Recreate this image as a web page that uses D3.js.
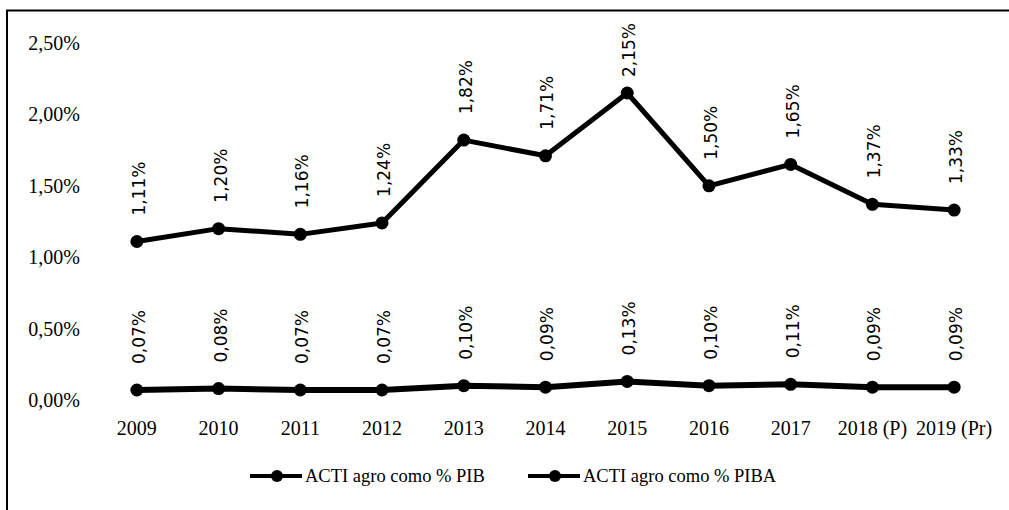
<!DOCTYPE html>
<html>
<head>
<meta charset="utf-8">
<script src="https://cdn.jsdelivr.net/npm/d3@7"></script>
<style>
  body { margin: 0; background: #fff; }
  svg { display: block; }
  .tick-label { font-family: "Liberation Serif", serif; font-size: 20px; fill: #000; }
  .data-label { font-family: "DejaVu Sans", sans-serif; font-size: 17px; fill: #000; }
  .legend-label { font-family: "Liberation Serif", serif; font-size: 18.5px; fill: #000; }
</style>
</head>
<body>
<div id="chart"></div>
<script>
// ----------------------------------------------------------------
// Data
// ----------------------------------------------------------------

const years = ["2009", "2010", "2011", "2012", "2013", "2014", "2015", "2016", "2017", "2018 (P)", "2019 (Pr)"];
const actiPib = [1.11, 1.20, 1.16, 1.24, 1.82, 1.71, 2.15, 1.50, 1.65, 1.37, 1.33];
const actiPiba = [0.07, 0.08, 0.07, 0.07, 0.10, 0.09, 0.13, 0.10, 0.11, 0.09, 0.09];
const yTicks = [0, 0.5, 1.0, 1.5, 2.0, 2.5];
const seriesNames = ["ACTI agro como % PIB", "ACTI agro como % PIBA"];

// ----------------------------------------------------------------
// Setup
// ----------------------------------------------------------------

const width = 1009;
const height = 510;
const labelGap = 26;   // distance from point to start of rotated label
const labelTop = 23;   // labels are pushed down so they stay inside the plot

const locale = d3.formatLocale({ decimal: ",", thousands: ".", grouping: [3], currency: ["", ""] });
const pct = v => locale.format(".2f")(v) + "%";

const svg = d3.select("#chart").append("svg")
  .attr("width", width)
  .attr("height", height);

// outer frame (only top and left edges are visible in the scan)
svg.append("path")
  .attr("d", "M7,512 L7,10.5 L1012,10.5")
  .attr("fill", "none")
  .attr("stroke", "#000")
  .attr("stroke-width", 2);

const x = d3.scaleBand()
  .domain(years)
  .range([96, 995]);

const y = d3.scaleLinear()
  .domain([0, 2.5])
  .range([400, 43]);

// y tick labels
svg.append("g").selectAll("text")
  .data(yTicks)
  .join("text")
  .attr("class", "tick-label")
  .attr("x", 80)
  .attr("y", d => y(d))
  .attr("dy", "0.35em")
  .attr("text-anchor", "end")
  .text(d => pct(d));

// x tick labels
svg.append("g").selectAll("text")
  .data(years)
  .join("text")
  .attr("class", "tick-label")
  .attr("x", d => x(d) + x.bandwidth() / 2)
  .attr("y", 435)
  .attr("text-anchor", "middle")
  .text(d => d);

// ----------------------------------------------------------------
// Series
// ----------------------------------------------------------------

const cx = i => x(years[i]) + x.bandwidth() / 2;

const line = d3.line()
  .x((d, i) => cx(i))
  .y(d => y(d));

function drawSeries (values, strokeWidth) {
  const g = svg.append("g");
  g.append("path")
    .datum(values)
    .attr("d", line)
    .attr("fill", "none")
    .attr("stroke", "#000")
    .attr("stroke-width", strokeWidth)
    .attr("stroke-linejoin", "round");
  g.selectAll("circle")
    .data(values)
    .join("circle")
    .attr("cx", (d, i) => cx(i))
    .attr("cy", d => y(d))
    .attr("r", 6.5)
    .attr("fill", "#000");
  g.selectAll("text")
    .data(values)
    .join("text")
    .attr("class", "data-label")
    .attr("dy", "0.35em")
    .attr("text-anchor", "start")
    .text(d => pct(d))
    .attr("transform", function (d, i) {
      const len = this.getComputedTextLength();
      let start = y(d) - labelGap;
      if (start - len < labelTop) start = labelTop + len;
      return "translate(" + (cx(i) + 2) + "," + start + ") rotate(-90)";
    });
}

drawSeries(actiPib, 5);
drawSeries(actiPiba, 6);

// ----------------------------------------------------------------
// Legend
// ----------------------------------------------------------------

const legendY = 476;
const legendItems = [
  { name: seriesNames[0], x0: 250 },
  { name: seriesNames[1], x0: 528 }
];

const legend = svg.append("g").selectAll("g")
  .data(legendItems)
  .join("g")
  .attr("transform", d => "translate(" + d.x0 + "," + legendY + ")");

legend.append("line")
  .attr("x1", 0).attr("x2", 52)
  .attr("y1", 0).attr("y2", 0)
  .attr("stroke", "#000")
  .attr("stroke-width", 4);

legend.append("circle")
  .attr("cx", 27).attr("cy", 0)
  .attr("r", 6)
  .attr("fill", "#000");

legend.append("text")
  .attr("class", "legend-label")
  .attr("x", 55)
  .attr("y", 0)
  .attr("dy", "0.35em")
  .text(d => d.name);
</script>
</body>
</html>
